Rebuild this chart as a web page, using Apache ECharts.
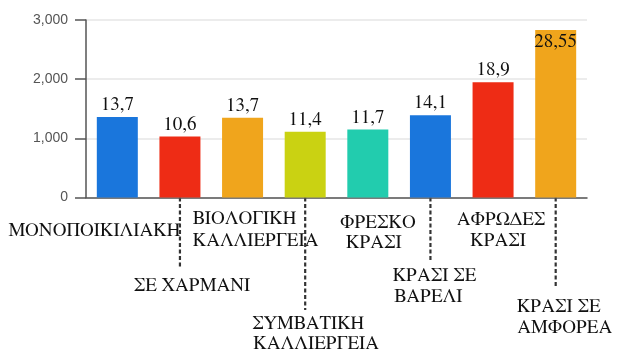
<!DOCTYPE html>
<html>
<head>
<meta charset="utf-8">
<script src="https://cdn.jsdelivr.net/npm/echarts@6/dist/echarts.min.js"></script>
<style>
html,body{margin:0;padding:0;background:#fff;}
#c{width:640px;height:354px;}
</style>
</head>
<body>
<div id="c"></div>
<script>
// ---- data ----
const categories = ['ΜΟΝΟΠΟΙΚΙΛΙΑΚΗ', 'ΣΕ ΧΑΡΜΑΝΙ', 'ΒΙΟΛΟΓΙΚΗ\nΚΑΛΛΙΕΡΓΕΙΑ', 'ΣΥΜΒΑΤΙΚΗ\nΚΑΛΛΙΕΡΓΕΙΑ', 'ΦΡΕΣΚΟ\nΚΡΑΣΙ', 'ΚΡΑΣΙ ΣΕ\nΒΑΡΕΛΙ', 'ΑΦΡΩΔΕΣ\nΚΡΑΣΙ', 'ΚΡΑΣΙ ΣΕ\nΑΜΦΟΡΕΑ'];
const values = [1360, 1030, 1350, 1110, 1150, 1390, 1950, 2830];
const valueLabels = ['13,7', '10,6', '13,7', '11,4', '11,7', '14,1', '18,9', '28,55'];
const yMin = 0, yMax = 3000, yStep = 1000;

// ---- style ----
const barColors = ['#1a76dc', '#ee2c15', '#f0a51c', '#cad212', '#22ccae', '#1a76dc', '#ee2c15', '#f0a51c'];
// per-line label placement relative to tick (dx) and axis line (dy)
const labelLayout = [
  [[-23, 32.5]],
  [[12, 87.5]],
  [[2, 20.5], [13, 42.5]],
  [[3, 125.5], [11, 145.5]],
  [[10, 24.5], [6, 44.5]],
  [[4, 77.5], [-2, 98.5]],
  [[8, 21.5], [5, 42.5]],
  [[3, 108.5], [9, 129.5]]
];
const dashLen = [0, 69.5, 0, 112.5, 0, 62.5, 0, 90.5];
const serif = "FreeSerif, 'Liberation Serif', serif";

const chart = echarts.init(document.getElementById('c'), null, {renderer: 'canvas'});
const option = {
  animation: false,
  grid: {left: 86, right: 53, top: 20, bottom: 156.5},
  xAxis: {
    type: 'category',
    data: categories,
    axisLine: {lineStyle: {color: '#555', width: 1.5}},
    axisTick: {
      alignWithLabel: true, length: 10, lineStyle: {color: '#444', width: 1.5},
      interval: function (i) { return i % 2 === 0; }
    },
    axisLabel: {show: false}
  },
  yAxis: {
    type: 'value', min: yMin, max: yMax, interval: yStep,
    axisLine: {show: true, lineStyle: {color: '#555', width: 1.5}},
    axisTick: {show: true, length: 11, lineStyle: {color: '#555', width: 1.5}},
    axisLabel: {color: '#555', fontSize: 14, fontFamily: 'Liberation Sans', margin: 18,
      formatter: function (v) { return v.toLocaleString('en-US'); }},
    splitLine: {lineStyle: {color: '#e6e6e6', width: 1.5}}
  },
  series: [{
    type: 'bar',
    barWidth: 41,
    data: values.map(function (v, i) {
      const item = {value: v, itemStyle: {color: barColors[i]}};
      if (i === values.length - 1) item.label = {position: 'insideTop', distance: 2};
      return item;
    }),
    label: {
      show: true, position: 'top', distance: 3,
      color: '#111', fontSize: 19, fontFamily: serif,
      formatter: function (p) { return valueLabels[p.dataIndex]; }
    }
  }]
};
chart.setOption(option);

const axisY = chart.convertToPixel({yAxisIndex: 0}, 0);
const graphics = [];
categories.forEach(function (cat, i) {
  const x = chart.convertToPixel({xAxisIndex: 0}, i);
  if (dashLen[i] > 0) {
    graphics.push({
      type: 'line', silent: true,
      shape: {x1: x, y1: axisY, x2: x, y2: axisY + dashLen[i]},
      style: {stroke: '#333', lineWidth: 2.2, lineDash: [4, 2.5]}
    });
  }
  const lines = cat.split('\n');
  lines.forEach(function (t, j) {
    const lay = labelLayout[i][j];
    graphics.push({
      type: 'text', silent: true,
      x: x + lay[0], y: axisY + lay[1],
      style: {text: t, fill: '#111', fontSize: 19, fontFamily: serif, align: 'center', verticalAlign: 'middle'}
    });
  });
});
chart.setOption({graphic: graphics});
</script>
</body>
</html>
